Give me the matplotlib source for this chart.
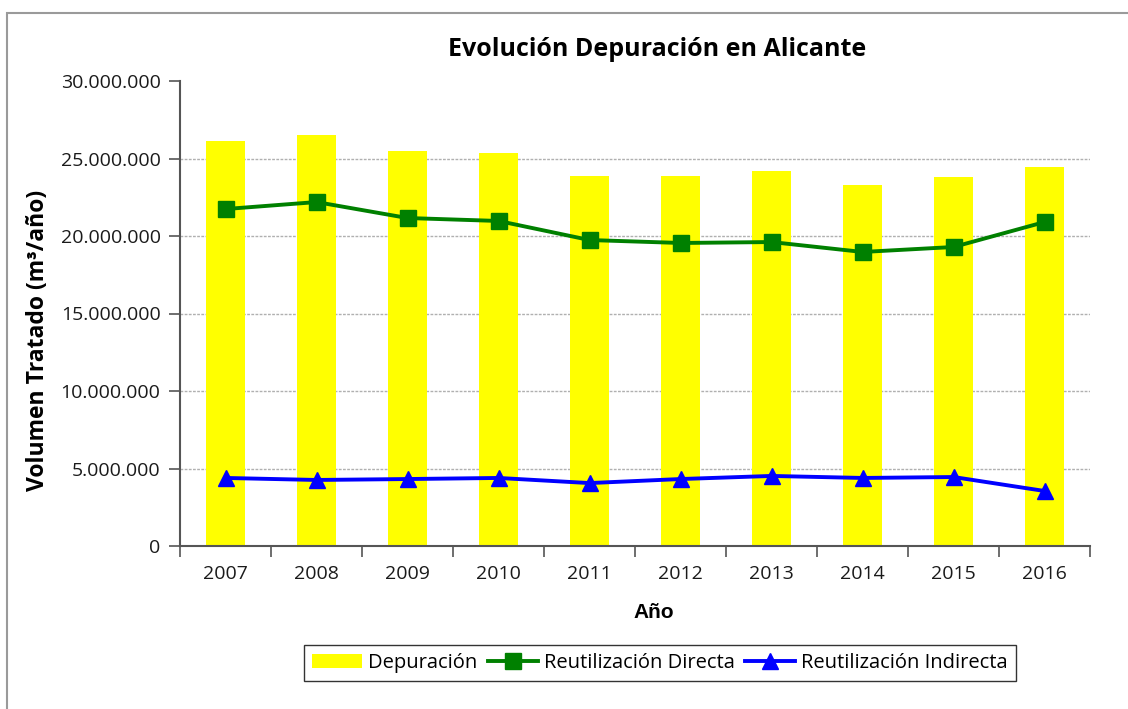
import numpy as np
import matplotlib
matplotlib.use("Agg")
import matplotlib.pyplot as plt
from matplotlib.ticker import FuncFormatter, MultipleLocator
from matplotlib.patches import Rectangle

### ~~~~~~~~~~~~~~~~~~~~~~~~~~~~~~~~~~~~~~~ ###
# data
years = ["2007", "2008", "2009", "2010", "2011", "2012", "2013", "2014", "2015", "2016"]
depuracion = [26130000, 26500000, 25480000, 25350000, 23870000, 23870000, 24190000, 23290000, 23800000, 24450000]
reut_directa = [21740000, 22190000, 21160000, 20970000, 19740000, 19550000, 19610000, 18970000, 19290000, 20900000]
reut_indirecta = [4390000, 4260000, 4320000, 4390000, 4060000, 4320000, 4520000, 4390000, 4450000, 3550000]

plt.rcParams['font.family'] = ['Open Sans', 'DejaVu Sans']

### ~~~~~~~~~~~~~~~~~~~~~~~~~~~~~~~~~~~~~~~ ###
fig = plt.figure(figsize=(11.28, 7.09), dpi=100)
ax = fig.add_axes([180/1128, 163/709, 910/1128, 465/709])

x = np.arange(len(years))
b = ax.bar(x, depuracion, width=0.42, color="#FFFF00", zorder=2, label="Depuración")
l1, = ax.plot(x, reut_directa, color="#008000", linewidth=2.8, marker="s", markersize=11,
              zorder=3, label="Reutilización Directa")
l2, = ax.plot(x, reut_indirecta, color="#0000FF", linewidth=2.8, marker="^", markersize=12,
              zorder=3, label="Reutilización Indirecta")

ax.set_xlim(-0.5, len(years) - 0.5)
ax.set_ylim(0, 30000000)
ax.yaxis.set_major_locator(MultipleLocator(5000000))
ax.yaxis.set_major_formatter(FuncFormatter(lambda v, p: "{:,.0f}".format(v).replace(",", ".")))

# gridlines only between 0 and the top
for gv in range(5000000, 30000000, 5000000):
    ax.axhline(gv, color="#b0b0b0", linewidth=1.0, linestyle=(0, (2, 1)), zorder=1)

ax.set_xticks(x)
ax.set_xticklabels(years)
ax.set_xticks(np.arange(-0.5, len(years), 1.0), minor=True)
ax.tick_params(axis="x", which="major", length=0, pad=14, labelsize=14, labelcolor="#1a1a1a")
ax.tick_params(axis="x", which="minor", length=8, width=1.2, color="#555555", direction="out")
ax.tick_params(axis="y", length=8, width=1.2, color="#555555", pad=6, labelsize=14, labelcolor="#1a1a1a")

for s in ["top", "right"]:
    ax.spines[s].set_visible(False)
for s in ["left", "bottom"]:
    ax.spines[s].set_color("#555555")
    ax.spines[s].set_linewidth(1.5)

### ~~~~~~~~~~~~~~~~~~~~~~~~~~~~~~~~~~~~~~~ ###
fig.text(657/1128, 1 - 50/709, "Evolución Depuración en Alicante", ha="center", va="center",
         fontsize=18, fontweight="bold")
fig.text(38/1128, 1 - 340/709, "Volumen Tratado (m³/año)", ha="center", va="center",
         rotation=90, fontsize=16.5, fontweight="bold")
fig.text(654/1128, 1 - 613/709, "Año", ha="center", va="center", fontsize=15,
         fontweight="bold", family=["Liberation Sans", "DejaVu Sans"])

leg = fig.legend([b, l1, l2], ["Depuración", "Reutilización Directa", "Reutilización Indirecta"],
                 loc="center", bbox_to_anchor=(660/1128, 1 - 663/709), ncol=3,
                 frameon=True, fancybox=False, edgecolor="#000000",
                 handlelength=2.5, columnspacing=0.5, handletextpad=0.3, borderpad=0.4,
                 prop={"family": ["Open Sans", "DejaVu Sans"], "size": 14.5})
leg.get_frame().set_linewidth(1.0)

# outer chart frame
fig.patches.append(Rectangle((7/1128, -0.05), 1.2, 1 - 13/709 + 0.05, transform=fig.transFigure,
                             fill=False, edgecolor="#9a9a9a", linewidth=1.5, zorder=0))

plt.savefig("out.png", dpi=100)
